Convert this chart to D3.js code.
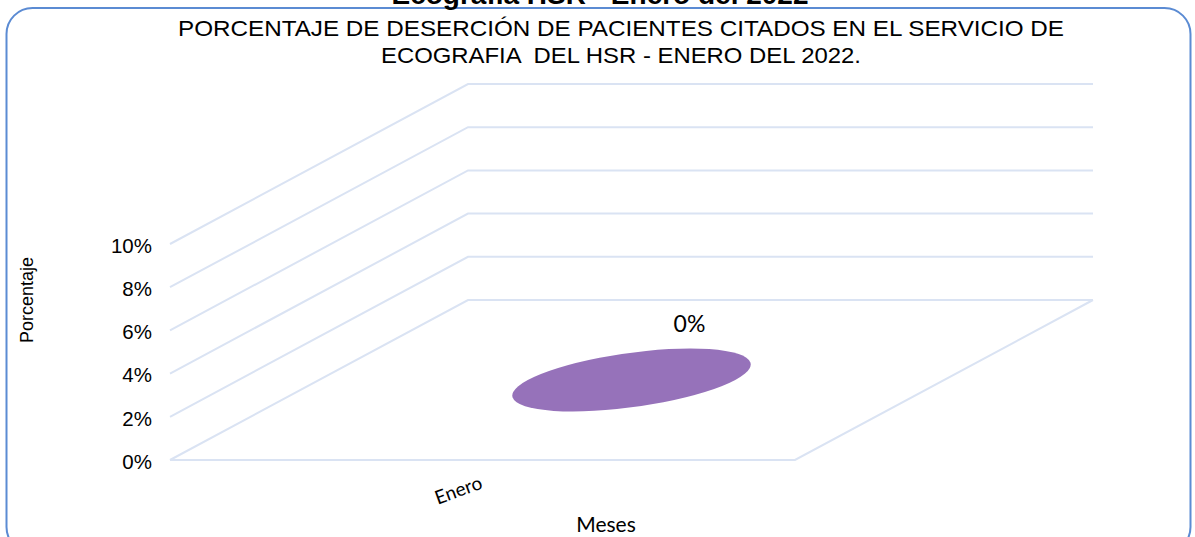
<!DOCTYPE html>
<html>
<head>
<meta charset="utf-8">
<script src="https://cdn.jsdelivr.net/npm/d3@7"></script>
<style>
  body { margin: 0; background: #fff; }
  svg { display: block; }
</style>
</head>
<body>
<script>
// chart data
const categories = ["Enero"];
const values = [0];
const valueLabels = ["0%"];
const yTicks = [0, 0.02, 0.04, 0.06, 0.08, 0.10];

const superTitle = "Ecografía HSR - Enero del 2022";
const titleLines = [
    "PORCENTAJE DE DESERCIÓN DE PACIENTES CITADOS EN EL SERVICIO DE",
    "ECOGRAFIA  DEL HSR - ENERO DEL 2022."
];
const yTitle = "Porcentaje";
const xTitle = "Meses";

let width = 1195;
let height = 537;

// front-left corner of the 3d box and the depth offset of the floor
let front = { left: 170, right: 795, bottom: 460, top: 244 };
let depth = { dx: 298, dy: -160 };

let gridColor = "#dae3f3";
let sans = "'Liberation Sans', Arial, sans-serif";
let calib = "Lato, 'Open Sans', sans-serif";

let svg = d3.select("body").append("svg")
    .attr("width", width)
    .attr("height", height)
    .attr("viewBox", [0, 0, width, height]);

let x = d3.scaleBand()
    .domain(categories)
    .range([front.left, front.right]);

let y = d3.scaleLinear()
    .domain([0, d3.max(yTicks)])
    .range([front.bottom, front.top]);

// chart area border
svg.append("rect")
    .attr("x", 6.5)
    .attr("y", 8)
    .attr("width", 1184)
    .attr("height", 545)
    .attr("rx", 26)
    .attr("fill", "none")
    .attr("stroke", "#5b8bd3")
    .attr("stroke-width", 2);

// bold heading that is cut off by the top edge
svg.append("text")
    .attr("x", 600)
    .attr("y", 3.5)
    .attr("text-anchor", "middle")
    .style("font-family", sans)
    .style("font-weight", "bold")
    .style("font-size", "28px")
    .text(superTitle);

// title (the source text is a bit wider than Arial, so stretch to its width)
let titleWidths = [886, 480];
svg.append("g").selectAll("text")
    .data(titleLines)
    .join("text")
    .attr("x", 621)
    .attr("y", (d, i) => 36 + i * 27)
    .attr("text-anchor", "middle")
    .attr("textLength", (d, i) => titleWidths[i])
    .attr("lengthAdjust", "spacingAndGlyphs")
    .style("white-space", "pre")
    .style("font-family", sans)
    .style("font-size", "22px")
    .style("fill", "#000")
    .text(d => d);

// walls: left side wall lines + back wall lines, one per tick
let line = d3.line();
let grid = svg.append("g")
    .attr("fill", "none")
    .attr("stroke", gridColor)
    .attr("stroke-width", 2);

grid.selectAll("path.tick")
    .data(yTicks)
    .join("path")
    .attr("class", "tick")
    .attr("d", t => line([
        [front.left, y(t)],
        [front.left + depth.dx, y(t) + depth.dy],
        [front.right + depth.dx, y(t) + depth.dy]
    ]));

// floor front edge and right edge
grid.append("path")
    .attr("d", line([
        [front.left, y(0)],
        [front.right, y(0)],
        [front.right + depth.dx, y(0) + depth.dy]
    ]));

// y tick labels
svg.append("g").selectAll("text")
    .data(yTicks)
    .join("text")
    .attr("x", 152)
    .attr("y", t => y(t) + 1)
    .attr("dy", "0.38em")
    .attr("text-anchor", "end")
    .style("font-family", sans)
    .style("font-size", "20.5px")
    .text(t => d3.format(".0%")(t));

// y axis title
svg.append("text")
    .attr("transform", "translate(33,300) rotate(-90)")
    .attr("text-anchor", "middle")
    .style("font-family", sans)
    .style("font-size", "18px")
    .text(yTitle);

// the cylinder: with a value of 0 only its base disc remains, lying mid-depth on the floor
let bars = svg.append("g").selectAll("g")
    .data(categories)
    .join("g");

bars.each(function(c, i) {
    let cx = x(c) + x.bandwidth() / 2 + depth.dx / 2;
    let cy = y(values[i]) + depth.dy / 2;
    let rx = x.bandwidth() * 0.166;
    let k = 0.197;
    d3.select(this).append("circle")
        .attr("r", 1)
        .attr("transform", `matrix(${rx},0,${depth.dx * k},${depth.dy * k},${cx},${cy})`)
        .attr("fill", "#9672ba");

    d3.select(this).append("text")
        .attr("x", cx + 58)
        .attr("y", cy - 48)
        .attr("text-anchor", "middle")
        .style("font-family", calib)
        .style("font-size", "23px")
        .text(valueLabels[i]);
});

// category labels, rotated
svg.append("g").selectAll("text")
    .data(categories)
    .join("text")
    .attr("transform", c => `translate(${x(c) + x.bandwidth() / 2 + 1},${front.bottom + 28}) rotate(-20)`)
    .attr("text-anchor", "end")
    .style("font-family", calib)
    .style("font-size", "19px")
    .text(c => c);

// x axis title
svg.append("text")
    .attr("x", 606)
    .attr("y", 532)
    .attr("text-anchor", "middle")
    .style("font-family", calib)
    .style("font-size", "21px")
    .text(xTitle);
</script>
</body>
</html>
